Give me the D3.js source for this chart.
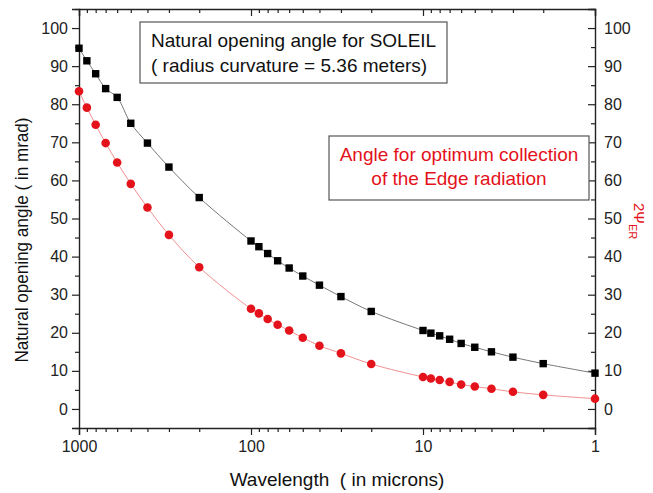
<!DOCTYPE html>
<html><head><meta charset="utf-8">
<script src="https://cdn.jsdelivr.net/npm/d3@7"></script>
<style>body{margin:0;background:#fff}svg{display:block;font-family:Arial,"Liberation Sans",sans-serif}</style>
</head><body><div id="chart"></div>
<script>
const wavelengths = [1000,900,800,700,600,500,400,300,200,100,90,80,70,60,50,40,30,20,10,9,8,7,6,5,4,3,2,1];
const naturalAngle = [94.7,91.4,88.0,84.1,81.8,75.0,69.8,63.5,55.5,44.1,42.6,40.8,38.9,37.0,34.9,32.5,29.5,25.6,20.6,19.9,19.2,18.3,17.2,16.2,15.0,13.6,11.9,9.4];
const edgeAngle = [83.4,79.1,74.6,69.8,64.7,59.1,52.9,45.7,37.2,26.3,25.1,23.6,22.1,20.6,18.7,16.6,14.6,11.8,8.4,8.0,7.6,7.1,6.4,5.9,5.3,4.5,3.7,2.7];
const xTickLabels = [1000,100,10,1];
const yTickLabels = [0,10,20,30,40,50,60,70,80,90,100];
const legend1 = ["Natural opening angle for SOLEIL","( radius curvature = 5.36 meters)"];
const legend2 = ["Angle for optimum collection","of the Edge radiation"];

const W=653,H=493, m={l:79,r:58,t:9,b:65};
const svg=d3.select("#chart").append("svg").attr("width",W).attr("height",H);
const x=d3.scaleLog().domain([1000,1]).range([m.l,W-m.r]);
const y=d3.scaleLinear().domain([-5,105]).range([H-m.b,m.t]);
const red="#e3121b";

const minorX=[];
for(const d of [100,10,1]) for(let k=2;k<=9;k++) minorX.push(d*k);
const minorY=d3.range(-5,106,5).filter(v=>v%10!==0);

const g=svg.append("g");
g.append("g").attr("transform",`translate(0,${H-m.b})`)
 .call(d3.axisBottom(x).tickValues(xTickLabels).tickFormat(d3.format("d")).tickSize(7).tickPadding(6));
g.append("g").attr("transform",`translate(0,${H-m.b})`).call(d3.axisBottom(x).tickValues(minorX).tickFormat("").tickSize(4)).select(".domain").remove();
g.append("g").attr("transform",`translate(0,${m.t})`).call(d3.axisBottom(x).tickValues(xTickLabels).tickFormat("").tickSize(7));
g.append("g").attr("transform",`translate(0,${m.t})`).call(d3.axisBottom(x).tickValues(minorX).tickFormat("").tickSize(4)).select(".domain").remove();
g.append("g").attr("transform",`translate(${m.l},0)`).call(d3.axisLeft(y).tickValues(yTickLabels).tickSize(7).tickPadding(4));
g.append("g").attr("transform",`translate(${m.l},0)`).call(d3.axisLeft(y).tickValues(minorY).tickFormat("").tickSize(4)).select(".domain").remove();
const ra=g.append("g").attr("transform",`translate(${W-m.r},0)`).call(d3.axisLeft(y).tickValues(yTickLabels).tickSize(7));
ra.selectAll("text").attr("text-anchor","start").attr("x",9);
g.append("g").attr("transform",`translate(${W-m.r},0)`).call(d3.axisLeft(y).tickValues(minorY).tickFormat("").tickSize(4)).select(".domain").remove();
g.selectAll(".domain").attr("stroke","#222").attr("stroke-width",1.4);
g.selectAll(".tick line").attr("stroke","#222").attr("stroke-width",1.2);
g.selectAll(".tick text").attr("font-size",16).attr("fill","#222").attr("font-family","Arial,'Liberation Sans',sans-serif");

const line=(vals)=>d3.line().x((d,i)=>x(wavelengths[i])).y(d=>y(d)).curve(d3.curveCatmullRom.alpha(0.5))(vals);
svg.append("path").attr("d",line(naturalAngle)).attr("fill","none").attr("stroke","#777").attr("stroke-width",1);
svg.append("path").attr("d",line(edgeAngle)).attr("fill","none").attr("stroke","#f09090").attr("stroke-width",1);
svg.append("g").selectAll("rect").data(naturalAngle).join("rect")
 .attr("x",(d,i)=>x(wavelengths[i])-3.7).attr("y",d=>y(d)-3.7).attr("width",7.4).attr("height",7.4).attr("fill","#000");
svg.append("g").selectAll("circle").data(edgeAngle).join("circle")
 .attr("cx",(d,i)=>x(wavelengths[i])).attr("cy",d=>y(d)).attr("r",4.3).attr("fill",red);

const b1=svg.append("g");
b1.append("rect").attr("x",140).attr("y",22).attr("width",307).attr("height",61).attr("fill","#fff").attr("stroke","#555").attr("stroke-width",1.2);
b1.selectAll("text").data(legend1).join("text").attr("x",151).attr("y",(d,i)=>47+i*25).attr("font-size",19).attr("fill","#111").text(d=>d);
const b2=svg.append("g");
b2.append("rect").attr("x",329).attr("y",136).attr("width",260).attr("height",64).attr("fill","#fff").attr("stroke","#555").attr("stroke-width",1.2);
b2.selectAll("text").data(legend2).join("text").attr("x",459).attr("y",(d,i)=>161+i*24).attr("text-anchor","middle").attr("font-size",19).attr("fill",red).text(d=>d);

svg.append("text").attr("x",337).attr("y",486).attr("text-anchor","middle").attr("font-size",19).attr("fill","#111").style("white-space","pre").text("Wavelength  ( in microns)");
svg.append("text").attr("transform","translate(28,240) rotate(-90) scale(0.9,1)").attr("text-anchor","middle").attr("font-size",19).attr("fill","#111").text("Natural opening angle ( in mrad)");
const rt=svg.append("text").attr("transform","translate(634,203) rotate(90)").attr("font-size",15).attr("fill",red);
rt.append("tspan").text("2Ψ");
rt.append("tspan").attr("dy",5).attr("font-size",11).text("ER");
</script></body></html>
